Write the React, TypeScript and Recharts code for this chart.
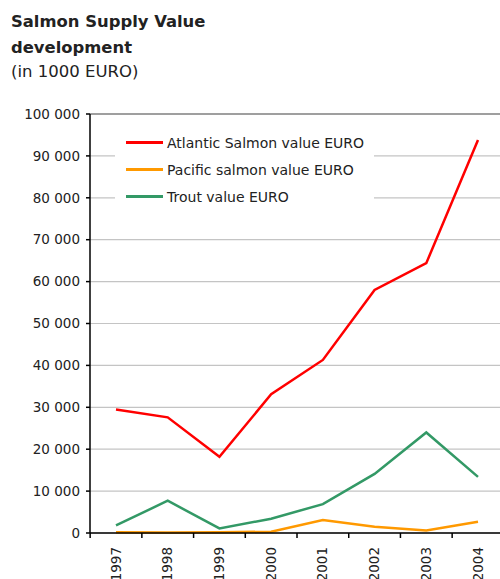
import React from 'react';
import { LineChart, Line, XAxis, YAxis, CartesianGrid, Legend, ReferenceLine } from 'recharts';

const years = ['1997', '1998', '1999', '2000', '2001', '2002', '2003', '2004'];
const atlantic = [29500, 27600, 18200, 33100, 41300, 58000, 64400, 93800];
const pacific = [200, 100, 200, 300, 3100, 1500, 600, 2700];
const trout = [1800, 7700, 1100, 3400, 6900, 14100, 24000, 13400];
const yTicks = [0, 10000, 20000, 30000, 40000, 50000, 60000, 70000, 80000, 90000, 100000];

const seriesNames = {
  atlantic: 'Atlantic Salmon value EURO',
  pacific: 'Pacific salmon value EURO',
  trout: 'Trout value EURO',
};

const data = years.map((year, i) => ({
  year,
  atlantic: atlantic[i],
  pacific: pacific[i],
  trout: trout[i],
}));

const FONT = '"DejaVu Sans", sans-serif';

const formatY = (v: number) => String(v).replace(/\B(?=(\d{3})+(?!\d))/g, ' ');

const STEP = 51.7;

const YearTick = ({ x, y, payload }: any) => (
  <g>
    <line x1={x - STEP / 2} y1={y} x2={x - STEP / 2} y2={y + 5} stroke="#000" strokeWidth={1.5} />
    <g transform={`translate(${x},${y + 14})`}>
      <text
        transform="rotate(-90)"
        textAnchor="end"
        dy={4.5}
        fontSize={13.5}
        fontFamily={FONT}
        fill="#222"
      >
        {payload.value}
      </text>
    </g>
  </g>
);

const renderLegend = ({ payload }: any) => (
  <div style={{ fontFamily: FONT, fontSize: 14, color: '#222' }}>
    {(payload || []).map((p: any) => (
      <div key={p.value} style={{ display: 'flex', alignItems: 'center', height: 27 }}>
        <div style={{ width: 37, height: 3, background: p.color, marginLeft: 11, marginRight: 4 }} />
        <span>{p.value}</span>
      </div>
    ))}
  </div>
);

export default function App() {
  return (
    <div style={{ position: 'absolute', left: 0, top: 0, width: 500, height: 579, background: '#fff' }}>
      <svg width={500} height={90} style={{ position: 'absolute', left: 0, top: 0 }}>
        <text x={11} y={27} fontFamily={FONT} fontWeight="bold" fontSize={16.4} fill="#222">
          Salmon Supply Value
        </text>
        <text x={11} y={53} fontFamily={FONT} fontWeight="bold" fontSize={16.4} fill="#222">
          development
        </text>
        <text x={11} y={77} fontFamily={FONT} fontSize={16.5} fill="#222">
          (in 1000 EURO)
        </text>
      </svg>
      <div style={{ position: 'absolute', left: 0, top: 0 }}>
        <LineChart width={500} height={579} data={data} margin={{ top: 114, right: 0, bottom: 0, left: 0 }}>
          <CartesianGrid vertical={false} stroke="#c4c4c4" strokeWidth={1.2} />
          <ReferenceLine y={100000} stroke="#888" strokeWidth={1.5} />
          <XAxis
            dataKey="year"
            height={46}
            padding={{ left: 26, right: 22 }}
            axisLine={{ stroke: '#000', strokeWidth: 1.5 }}
            tickLine={false}
            tickSize={0}
            tickMargin={0}
            interval={0}
            tick={<YearTick />}
          />
          <YAxis
            width={90}
            domain={[0, 100000]}
            ticks={yTicks}
            interval={0}
            tickFormatter={formatY}
            axisLine={{ stroke: '#000', strokeWidth: 1.5 }}
            tickLine={{ stroke: '#000', strokeWidth: 1.5 }}
            tickSize={4}
            tickMargin={6}
            tick={{ fontSize: 13.5, fontFamily: FONT, fill: '#222' }}
          />
          <Legend
            layout="vertical"
            align="center"
            verticalAlign="middle"
            content={renderLegend}
            wrapperStyle={{ position: 'absolute', left: 115, top: 129, width: 259, height: 86, background: '#fff' }}
          />
          <Line
            type="linear"
            dataKey="atlantic"
            name={seriesNames.atlantic}
            stroke="#ff0000"
            strokeWidth={2.5}
            dot={false}
            isAnimationActive={false}
          />
          <Line
            type="linear"
            dataKey="pacific"
            name={seriesNames.pacific}
            stroke="#ff9900"
            strokeWidth={2.5}
            dot={false}
            isAnimationActive={false}
          />
          <Line
            type="linear"
            dataKey="trout"
            name={seriesNames.trout}
            stroke="#339966"
            strokeWidth={2.5}
            dot={false}
            isAnimationActive={false}
          />
        </LineChart>
      </div>
    </div>
  );
}
